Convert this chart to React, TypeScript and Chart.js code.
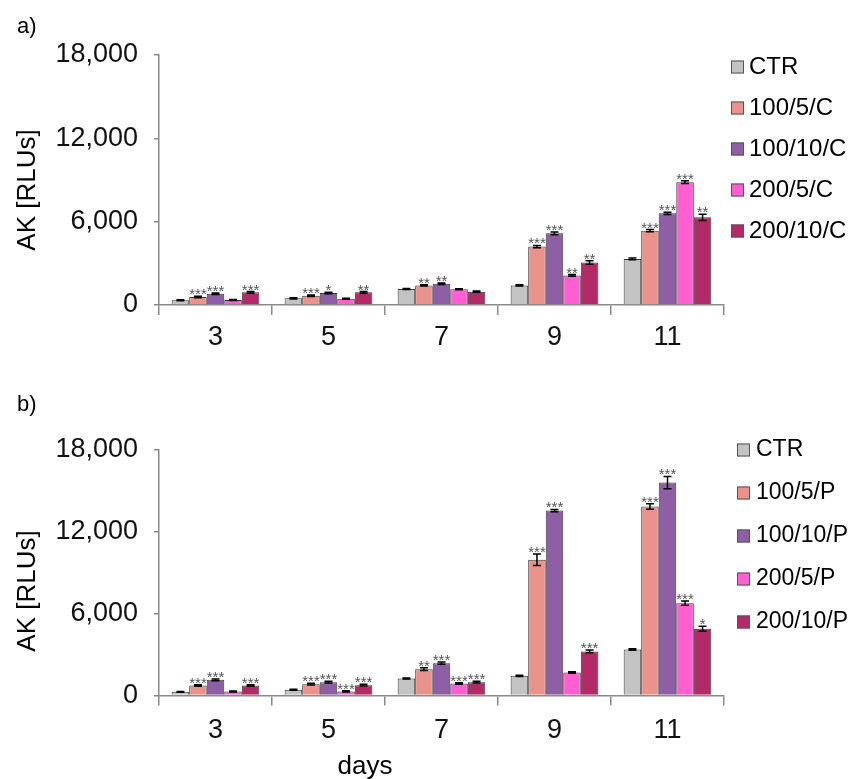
import React, { useEffect, useRef } from "react";
import { Chart, registerables } from "chart.js";
Chart.register(...registerables);

// ---------- data ----------
const days = ["3", "5", "7", "9", "11"];
const yTicks = [0, 6000, 12000, 18000];

const seriesA = ["CTR", "100/5/C", "100/10/C", "200/5/C", "200/10/C"];
const seriesB = ["CTR", "100/5/P", "100/10/P", "200/5/P", "200/10/P"];
const colors = ["#c3c3c3", "#ea938d", "#8e5fa5", "#ff5fd0", "#b22b66"];

// panel a) mean values
const aCTR = [340, 480, 1150, 1410, 3320];
const a100_5 = [580, 670, 1410, 4210, 5350];
const a100_10 = [810, 860, 1530, 5160, 6600];
const a200_5 = [360, 450, 1130, 2130, 8840];
const a200_10 = [910, 910, 960, 3060, 6310];
// panel a) errors
const aCTRerr = [30, 40, 40, 50, 60];
const a100_5err = [50, 50, 50, 80, 80];
const a100_10err = [50, 50, 50, 100, 80];
const a200_5err = [30, 40, 40, 60, 100];
const a200_10err = [60, 60, 50, 120, 220];
// panel a) significance
const aCTRsig = ["", "", "", "", ""];
const a100_5sig = ["***", "***", "**", "***", "***"];
const a100_10sig = ["***", "*", "**", "***", "***"];
const a200_5sig = ["", "", "", "**", "***"];
const a200_10sig = ["***", "**", "", "**", "**"];

// panel b) mean values
const bCTR = [270, 420, 1250, 1440, 3370];
const b100_5 = [730, 830, 1930, 9950, 13860];
const b100_10 = [1150, 980, 2370, 13560, 15610];
const b200_5 = [290, 300, 880, 1690, 6770];
const b200_10 = [730, 760, 980, 3230, 4890];
// panel b) errors
const bCTRerr = [30, 40, 40, 50, 50];
const b100_5err = [60, 60, 100, 420, 200];
const b100_10err = [60, 60, 80, 80, 450];
const b200_5err = [40, 40, 60, 50, 150];
const b200_10err = [60, 60, 60, 100, 180];
// panel b) significance
const bCTRsig = ["", "", "", "", ""];
const b100_5sig = ["***", "***", "**", "***", "***"];
const b100_10sig = ["***", "***", "***", "***", "***"];
const b200_5sig = ["", "***", "***", "", "***"];
const b200_10sig = ["***", "***", "***", "***", "*"];

const FONT = '"Liberation Sans", Arial, sans-serif';

// ---------- plugins ----------
const errStarPlugin = {
  id: "errStar",
  afterDatasetsDraw(chart: any, _a: any, opts: any) {
    const { ctx } = chart;
    const ys = chart.scales.y;
    ctx.save();
    chart.data.datasets.forEach((ds: any, di: number) => {
      const meta = chart.getDatasetMeta(di);
      meta.data.forEach((bar: any, i: number) => {
        const v = ds.data[i];
        const e = opts.errors[di][i];
        const yt = ys.getPixelForValue(v + e);
        const yb = ys.getPixelForValue(v - e);
        const x = bar.x;
        ctx.strokeStyle = "#000";
        ctx.lineWidth = 1.5;
        ctx.beginPath();
        ctx.moveTo(x, yt);
        ctx.lineTo(x, yb);
        ctx.moveTo(x - 4, yt);
        ctx.lineTo(x + 4, yt);
        ctx.moveTo(x - 4, yb);
        ctx.lineTo(x + 4, yb);
        ctx.stroke();
        const s = opts.stars[di][i];
        if (s) {
          ctx.fillStyle = "#555";
          ctx.font = `15px ${FONT}`;
          ctx.textAlign = "center";
          ctx.textBaseline = "alphabetic";
          ctx.fillText(s, x, yt + 3);
        }
      });
    });
    ctx.restore();
  },
};

const decorPlugin = {
  id: "decor",
  afterDraw(chart: any, _a: any, opts: any) {
    const { ctx } = chart;
    ctx.save();
    // legend
    ctx.font = `${opts.legendSize}px ${FONT}`;
    ctx.textBaseline = "middle";
    ctx.textAlign = "left";
    chart.data.datasets.forEach((ds: any, i: number) => {
      const cy = opts.legendY0 + i * opts.legendDy;
      ctx.fillStyle = ds.backgroundColor;
      ctx.fillRect(opts.boxX, cy - 6.5, 13, 13);
      ctx.strokeStyle = "#555";
      ctx.lineWidth = 1;
      ctx.strokeRect(opts.boxX + 0.5, cy - 6, 12, 12);
      ctx.fillStyle = "#000";
      ctx.fillText(ds.label, opts.textX, cy);
    });
    // panel label
    ctx.font = `22px ${FONT}`;
    ctx.fillStyle = "#000";
    ctx.textAlign = "left";
    ctx.fillText(opts.panel, 17, opts.panelY);
    // y title
    ctx.save();
    ctx.translate(28, opts.yTitleY);
    ctx.rotate(-Math.PI / 2);
    ctx.textAlign = "center";
    ctx.font = `26px ${FONT}`;
    ctx.fillText("AK [RLUs]", 0, 0);
    ctx.restore();
    // x title
    if (opts.xTitle) {
      ctx.textAlign = "center";
      ctx.font = `26px ${FONT}`;
      ctx.fillText(opts.xTitle, 365, opts.xTitleY);
    }
    ctx.restore();
  },
};

function makeConfig(
  labels: string[],
  values: number[][],
  errors: number[][],
  stars: string[][],
  xHeight: number,
  topPad: number,
  labelPad: number,
  decor: any
): any {
  return {
    type: "bar",
    data: {
      labels: days,
      datasets: labels.map((l, i) => ({
        label: l,
        data: values[i],
        backgroundColor: colors[i],
        borderColor: "#3a3a3a",
        borderWidth: 1,
        categoryPercentage: 0.776,
        barPercentage: 1.0,
      })),
    },
    options: {
      responsive: false,
      animation: false,
      layout: { padding: { top: topPad, right: 132, left: 0, bottom: 0 } },
      plugins: {
        legend: { display: false },
        tooltip: { enabled: false },
        errStar: { errors, stars },
        decor,
      },
      scales: {
        x: {
          ticks: { font: { size: 27, family: FONT }, color: "#111", padding: labelPad, maxRotation: 0 },
          grid: { display: true, drawOnChartArea: false, offset: true, tickLength: 10, color: "#8a8a8a", lineWidth: 1.5 },
          border: { display: true, color: "#8a8a8a", width: 1.5 },
          afterFit: (s: any) => {
            s.height = xHeight;
          },
        },
        y: {
          min: 0,
          max: 18000,
          afterBuildTicks: (s: any) => {
            s.ticks = yTicks.map((v) => ({ value: v }));
          },
          ticks: {
            font: { size: 27, family: FONT },
            color: "#111",
            padding: 16,
            callback: (v: any) => Number(v).toLocaleString("en-US"),
          },
          grid: { display: true, drawOnChartArea: false, tickLength: 5, color: "#8a8a8a", lineWidth: 1.5 },
          border: { display: true, color: "#8a8a8a", width: 1.5 },
          afterFit: (s: any) => {
            s.width = 159;
          },
        },
      },
    },
    plugins: [errStarPlugin, decorPlugin],
  };
}

function Panel(props: { height: number; config: any }) {
  const ref = useRef<HTMLCanvasElement | null>(null);
  useEffect(() => {
    if (!ref.current) return;
    const chart = new Chart(ref.current, props.config);
    return () => chart.destroy();
  }, []);
  return <canvas ref={ref} width={856} height={props.height} style={{ display: "block" }} />;
}

export default function App() {
  useEffect(() => {
    document.body.style.margin = "0";
  }, []);
  const cfgA = makeConfig(
    seriesA,
    [aCTR, a100_5, a100_10, a200_5, a200_10],
    [aCTRerr, a100_5err, a100_10err, a200_5err, a200_10err],
    [aCTRsig, a100_5sig, a100_10sig, a200_5sig, a200_10sig],
    85,
    55,
    6,
    { legendSize: 24, legendY0: 67, legendDy: 41, boxX: 731, textX: 749, panel: "a)", panelY: 27, yTitleY: 190 }
  );
  const cfgB = makeConfig(
    seriesB,
    [bCTR, b100_5, b100_10, b200_5, b200_10],
    [bCTRerr, b100_5err, b100_10err, b200_5err, b200_10err],
    [bCTRsig, b100_5sig, b100_10sig, b200_5sig, b200_10sig],
    83.5,
    60,
    9,
    {
      legendSize: 23,
      legendY0: 60,
      legendDy: 43,
      boxX: 737,
      textX: 756,
      panel: "b)",
      panelY: 15,
      yTitleY: 201,
      xTitle: "days",
      xTitleY: 377,
    }
  );
  return (
    <div style={{ width: 856, background: "#fff" }}>
      <Panel height={390} config={cfgA} />
      <Panel height={389} config={cfgB} />
    </div>
  );
}
